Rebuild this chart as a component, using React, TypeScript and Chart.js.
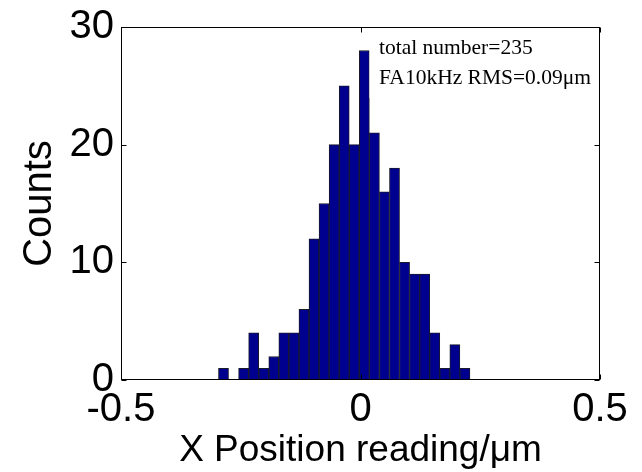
import React, { useEffect, useRef } from 'react';
import { Chart, registerables } from 'chart.js';

Chart.register(...registerables);

// Histogram bin centres (µm) and counts
const binCenters = [
  -0.286, -0.265, -0.244, -0.223, -0.202, -0.181, -0.160, -0.139, -0.118, -0.097,
  -0.076, -0.055, -0.034, -0.013, 0.008, 0.029, 0.050, 0.071, 0.092, 0.113,
  0.134, 0.155, 0.176, 0.197, 0.218,
];
const counts = [
  1, 0, 1, 4, 1, 2, 4, 4, 6, 12,
  15, 20, 25, 20, 28, 21, 16, 18, 10, 9,
  9, 4, 1, 3, 1,
];
const xTicks = [-0.5, 0, 0.5];
const xTickLabels = ['-0.5', '0', '0.5'];
const yTicks = [0, 10, 20, 30];
const yTickLabels = ['0', '10', '20', '30'];
const xTitle = 'X Position reading/\u03bcm';
const yTitle = 'Counts';
const annotationLines = ['total number=235', 'FA10kHz RMS=0.09\u03bcm'];

const SANS = '"Liberation Sans", Arial, Helvetica, sans-serif';
const SERIF = '"Liberation Serif", "Times New Roman", serif';

export default function App() {
  const ref = useRef<HTMLCanvasElement>(null);

  useEffect(() => {
    const canvas = ref.current;
    if (!canvas) return;

    const framePlugin = {
      id: 'matlabFrame',
      afterDatasetsDraw(chart: any) {
        const { ctx, chartArea: a, scales } = chart;
        const xs = scales.x;
        const ys = scales.y;
        ctx.save();
        // text box (white background)
        ctx.fillStyle = '#ffffff';
        ctx.fillRect(a.left + 248.5, a.top + 1, a.right - a.left - 249.5, 70);
        ctx.fillStyle = '#000000';
        ctx.font = '21.5px ' + SERIF;
        ctx.textAlign = 'left';
        ctx.textBaseline = 'alphabetic';
        ctx.fillText(annotationLines[0], a.left + 258, a.top + 27);
        ctx.fillText(annotationLines[1], a.left + 258, a.top + 57);

        // axes box
        const L = Math.round(a.left) + 0.5;
        const R = Math.round(a.right) - 0.5;
        const T = Math.round(a.top) + 0.5;
        const B = Math.round(a.bottom) - 0.5;
        ctx.strokeStyle = '#000000';
        ctx.lineWidth = 1;
        ctx.strokeRect(L, T, R - L, B - T);

        // inward ticks
        const tl = 5;
        ctx.beginPath();
        xTicks.forEach((v) => {
          const px = Math.round(xs.getPixelForValue(v)) + 0.5;
          ctx.moveTo(px, B);
          ctx.lineTo(px, B - tl);
          ctx.moveTo(px, T);
          ctx.lineTo(px, T + tl);
        });
        yTicks.forEach((v) => {
          const py = Math.round(ys.getPixelForValue(v)) + 0.5;
          ctx.moveTo(L, py);
          ctx.lineTo(L + tl, py);
          ctx.moveTo(R, py);
          ctx.lineTo(R - tl, py);
        });
        ctx.stroke();
        ctx.restore();
      },
    };

    const chart = new Chart(canvas, {
      type: 'bar',
      data: {
        datasets: [
          {
            data: binCenters.map((x, i) => ({ x, y: counts[i] })),
            backgroundColor: '#00008f',
            borderColor: '#1a1a2a',
            borderWidth: 1,
            barPercentage: 1,
            categoryPercentage: 1,
          },
        ],
      },
      options: {
        responsive: false,
        devicePixelRatio: 1,
        animation: false,
        layout: { padding: { left: 0, top: 22, right: 42, bottom: 0 } },
        plugins: {
          legend: { display: false },
          tooltip: { enabled: false },
        },
        scales: {
          x: {
            type: 'linear',
            min: -0.5,
            max: 0.5,
            offset: false,
            grid: { display: false, drawTicks: false },
            border: { display: false },
            afterBuildTicks: (scale: any) => {
              scale.ticks = xTicks.map((v) => ({ value: v }));
            },
            afterFit: (scale: any) => {
              scale.height = 92;
            },
            ticks: {
              padding: 10,
              maxRotation: 0,
              autoSkip: false,
              color: '#000',
              font: { family: SANS, size: 40, lineHeight: 1 },
              callback: (_v: any, i: number) => xTickLabels[i],
            },
            title: {
              display: true,
              text: xTitle,
              color: '#000',
              font: { family: SANS, size: 37, lineHeight: 1 },
              padding: { top: 0, bottom: 3 },
            },
          },
          y: {
            type: 'linear',
            min: 0,
            max: 30,
            grid: { display: false, drawTicks: false },
            border: { display: false },
            afterBuildTicks: (scale: any) => {
              scale.ticks = yTicks.map((v) => ({ value: v }));
            },
            afterFit: (scale: any) => {
              scale.width = 121;
            },
            ticks: {
              padding: 7,
              autoSkip: false,
              color: '#000',
              font: { family: SANS, size: 40, lineHeight: 1 },
              callback: (_v: any, i: number) => yTickLabels[i],
            },
            title: {
              display: true,
              text: yTitle,
              color: '#000',
              font: { family: SANS, size: 40, lineHeight: 1 },
              padding: { top: 20, bottom: 0 },
            },
          },
        },
      },
      plugins: [framePlugin],
    } as any);

    return () => {
      chart.destroy();
    };
  }, []);

  return (
    <div style={{ position: 'fixed', left: 0, top: 0, width: 642, height: 472, background: '#ffffff' }}>
      <canvas ref={ref} width={642} height={472} style={{ display: 'block', width: 642, height: 472 }} />
    </div>
  );
}
